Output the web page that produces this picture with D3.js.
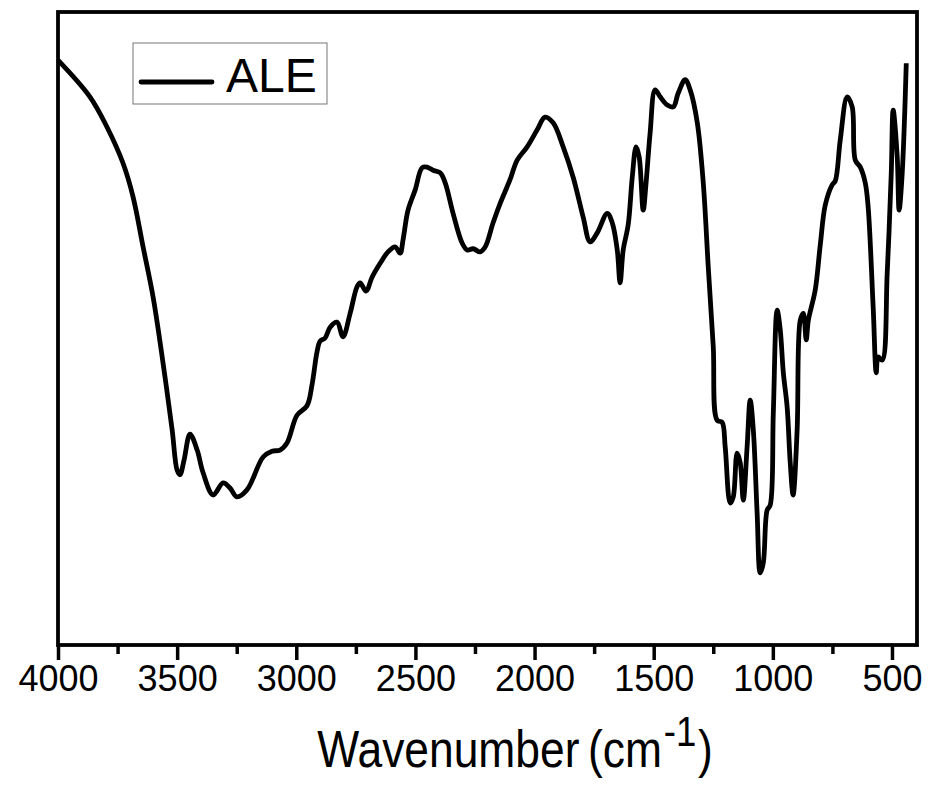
<!DOCTYPE html>
<html lang="en">
<head>
  <meta charset="UTF-8">
  <title>ALE FTIR</title>
  <script src="https://d3js.org/d3.v7.min.js"></script>
  <style>
    body { margin: 0; background: #fff; }
    text { font-family: "Liberation Sans", Arial, sans-serif; fill: #000; }
  </style>
</head>
<body>
  <div class="canvas"></div>
  <script>
    // wavenumber (cm-1) and relative transmittance
    const wavenumbers = [4000, 3866, 3794, 3727, 3685, 3643, 3601, 3559, 3521, 3500, 3488, 3471, 3446, 3416, 3391, 3349, 3307, 3278, 3249, 3207, 3139, 3102, 3068, 3039, 2997, 2955, 2934, 2913, 2900, 2879, 2858, 2829, 2804, 2774, 2745, 2732, 2707, 2682, 2648, 2615, 2585, 2564, 2552, 2531, 2501, 2472, 2451, 2426, 2396, 2375, 2342, 2304, 2283, 2258, 2228, 2207, 2174, 2144, 2103, 2073, 2031, 1989, 1956, 1922, 1880, 1838, 1796, 1767, 1737, 1695, 1674, 1653, 1641, 1628, 1607, 1590, 1574, 1561, 1544, 1532, 1515, 1494, 1473, 1443, 1418, 1397, 1368, 1347, 1317, 1292, 1271, 1250, 1234, 1213, 1200, 1179, 1166, 1150, 1137, 1124, 1108, 1095, 1082, 1066, 1053, 1040, 1024, 1011, 998, 982, 969, 956, 940, 927, 915, 898, 885, 872, 860, 851, 822, 801, 780, 751, 738, 717, 688, 667, 654, 633, 612, 600, 579, 566, 558, 541, 520, 503, 495, 478, 470, 457, 440];
    const transmittance = [92.4, 86.6, 81.8, 76.1, 70.8, 62.9, 55.0, 44.5, 34.0, 27.6, 26.9, 29.2, 33.3, 30.8, 27.2, 23.7, 25.6, 24.8, 23.4, 24.5, 29.7, 30.6, 30.8, 31.9, 36.3, 37.8, 41.1, 46.3, 48.0, 48.5, 50.2, 51.0, 48.7, 52.4, 56.6, 57.2, 55.9, 58.1, 60.3, 62.1, 62.9, 61.9, 64.0, 68.7, 71.9, 75.4, 75.5, 75.0, 74.6, 73.0, 68.2, 63.5, 62.4, 62.6, 62.1, 62.9, 66.7, 69.8, 73.5, 76.6, 78.7, 81.4, 83.4, 82.5, 78.7, 73.9, 67.6, 63.7, 65.1, 68.2, 66.7, 62.4, 57.2, 62.4, 66.4, 73.9, 78.7, 77.1, 68.7, 73.0, 80.9, 87.7, 86.6, 85.3, 85.0, 87.2, 89.3, 87.7, 82.5, 73.0, 59.7, 47.1, 35.5, 35.2, 31.3, 22.4, 23.4, 30.3, 28.8, 22.9, 31.3, 38.7, 34.0, 20.9, 11.4, 13.0, 21.3, 22.1, 36.7, 52.9, 49.8, 43.0, 37.6, 28.8, 23.7, 34.0, 51.3, 52.4, 48.2, 51.3, 56.1, 63.2, 69.5, 72.7, 73.3, 79.8, 86.6, 85.0, 76.6, 75.5, 73.0, 69.2, 53.4, 43.0, 45.5, 45.0, 58.8, 74.6, 84.5, 77.1, 68.7, 74.6, 91.9];
    const majorTicks = [4000, 3500, 3000, 2500, 2000, 1500, 1000, 500];
    const minorTicks = [3750, 3250, 2750, 2250, 1750, 1250, 750];
    const seriesName = "ALE";

    const data = wavenumbers.map((w, i) => ({ w: w, t: transmittance[i] }));

    const margin = { top: 12, right: 13, bottom: 144, left: 58 };
    const svgWidth = 930;
    const svgHeight = 789;
    const graphWidth = svgWidth - margin.left - margin.right;
    const graphHeight = svgHeight - margin.top - margin.bottom;

    const svg = d3.select(".canvas")
      .append("svg")
      .attr("width", svgWidth)
      .attr("height", svgHeight);

    const graph = svg.append("g")
      .attr("transform", `translate(${margin.left}, ${margin.top})`);

    const x = d3.scaleLinear().domain([4000, 395]).range([0, graphWidth]);
    const y = d3.scaleLinear().domain([0, 100]).range([graphHeight, 0]);

    const line = d3.line()
      .x(d => x(d.w))
      .y(d => y(d.t))
      .curve(d3.curveCatmullRom.alpha(0.5));

    graph.append("path")
      .datum(data)
      .attr("fill", "none")
      .attr("stroke", "#000")
      .attr("stroke-width", 4.8)
      .attr("stroke-linejoin", "round")
      .attr("d", line);

    // minor ticks
    graph.append("g")
      .attr("transform", `translate(0, ${graphHeight})`)
      .call(d3.axisBottom(x).tickValues(minorTicks).tickSize(9).tickFormat(""))
      .call(g => g.select(".domain").remove())
      .call(g => g.selectAll("line").attr("stroke-width", 3.5));

    // major ticks + labels
    const xAxisGroup = graph.append("g")
      .attr("transform", `translate(0, ${graphHeight})`)
      .call(d3.axisBottom(x).tickValues(majorTicks).tickSize(15).tickPadding(5).tickFormat(d3.format("d")));
    xAxisGroup.select(".domain").remove();
    xAxisGroup.selectAll("line").attr("stroke-width", 3.5);
    xAxisGroup.selectAll("text")
      .attr("font-size", 36)
      .attr("font-family", "'Liberation Sans', Arial, sans-serif")
      .attr("fill", "#000");

    // frame
    graph.append("rect")
      .attr("width", graphWidth)
      .attr("height", graphHeight)
      .attr("fill", "none")
      .attr("stroke", "#000")
      .attr("stroke-width", 3.8);

    // legend
    const legend = svg.append("g").attr("transform", "translate(133, 43)");
    legend.append("rect")
      .attr("width", 194)
      .attr("height", 61)
      .attr("fill", "#fff")
      .attr("stroke", "#777")
      .attr("stroke-width", 1);
    legend.append("line")
      .attr("x1", 8).attr("x2", 79)
      .attr("y1", 39).attr("y2", 39)
      .attr("stroke", "#000")
      .attr("stroke-width", 4.8)
      .attr("stroke-linecap", "round");
    legend.append("text")
      .attr("x", 93)
      .attr("y", 49)
      .attr("font-size", 48)
      .text(seriesName);

    // axis title (glyphs in the picture are narrow, hence the x squeeze)
    const title = svg.append("text")
      .attr("transform", "translate(515, 767) scale(0.87, 1)")
      .attr("text-anchor", "middle")
      .attr("font-size", 51);
    title.append("tspan").text("Wavenumber");
    title.append("tspan").attr("dx", 10).text("(cm");
    title.append("tspan").attr("dx", 2).attr("dy", -21).attr("font-size", 42).text("-1");
    title.append("tspan").attr("dx", 2).attr("dy", 21).text(")");
  </script>
</body>
</html>
